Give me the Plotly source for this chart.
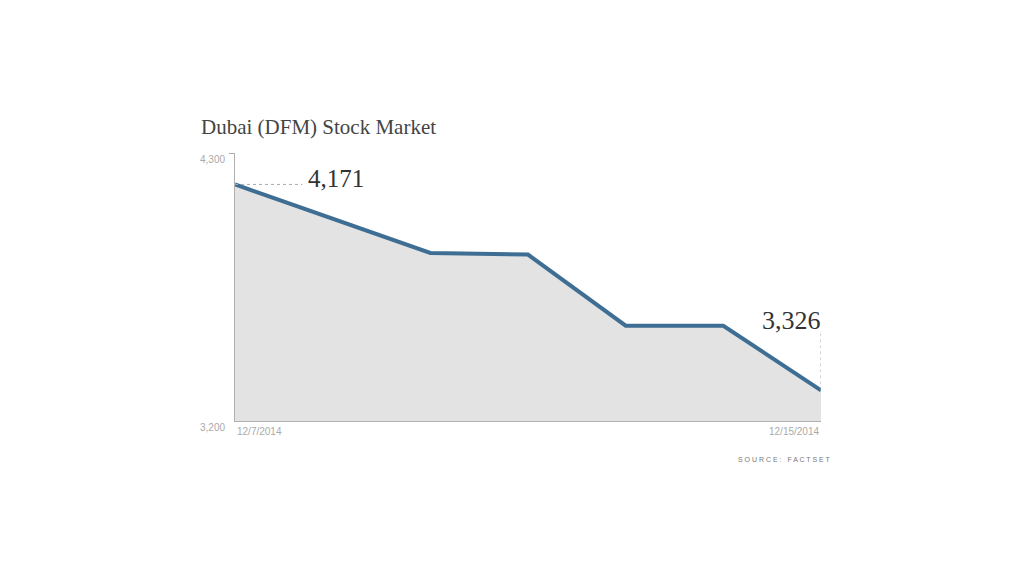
import plotly.graph_objects as go

dates = ["12/7/2014", "12/8/2014", "12/9/2014", "12/10/2014", "12/11/2014", "12/14/2014", "12/15/2014"]
values = [4171, 4030, 3890, 3883, 3591, 3591, 3326]
y_min, y_max = 3200, 4300
title = "Dubai (DFM) Stock Market"
source = "S O U R C E :   F A C T S E T"

x_idx = list(range(len(dates)))

fig = go.Figure()
fig.add_trace(go.Scatter(
    x=x_idx, y=values, mode="lines",
    line=dict(color="#3e6e93", width=4),
    fill="tozeroy", fillcolor="#e3e3e3",
    hoverinfo="skip", showlegend=False,
))

# dashed leader lines
fig.add_shape(type="line", xref="x", yref="y", x0=0, x1=0.69, y0=values[0], y1=values[0],
              line=dict(color="#aaaaaa", width=1, dash="dot"))
fig.add_shape(type="line", xref="x", yref="y", x0=x_idx[-1], x1=x_idx[-1], y0=values[-1], y1=3560,
              line=dict(color="#aaaaaa", width=1, dash="dot"))

serif = "Liberation Serif, DejaVu Serif, serif"
narrow = "Liberation Sans Narrow, Liberation Sans, Arial, sans-serif"

fig.add_annotation(xref="x", yref="y", x=0.73, y=values[0], text=f"{values[0]:,}",
                   showarrow=False, xanchor="left", yanchor="middle", yshift=6,
                   font=dict(family=serif, size=25, color="#333333"))
fig.add_annotation(xref="x", yref="y", x=x_idx[-1], y=3560, text=f"{values[-1]:,}",
                   showarrow=False, xanchor="right", yanchor="bottom", xshift=2, yshift=-4,
                   font=dict(family=serif, size=26, color="#333333"))

# axis labels
fig.add_annotation(xref="x", yref="paper", x=0, y=0, text=dates[0], showarrow=False,
                   xanchor="left", yanchor="top", yshift=-3,
                   font=dict(family=narrow, size=10, color="#aaaaaa"))
fig.add_annotation(xref="x", yref="paper", x=x_idx[-1], y=0, text=dates[-1], showarrow=False,
                   xanchor="right", yanchor="top", yshift=-3,
                   font=dict(family=narrow, size=10, color="#aaaaaa"))
fig.add_annotation(xref="paper", yref="y", x=0, y=y_max, text=f"{y_max:,}", showarrow=False,
                   xanchor="right", yanchor="middle", xshift=-8, yshift=-6,
                   font=dict(family=narrow, size=10, color="#aaaaaa"))
fig.add_annotation(xref="paper", yref="y", x=0, y=y_min, text=f"{y_min:,}", showarrow=False,
                   xanchor="right", yanchor="middle", xshift=-8, yshift=-6,
                   font=dict(family=narrow, size=10, color="#aaaaaa"))

# title and source
fig.add_annotation(xref="paper", yref="paper", x=0, y=1.0, text=title, showarrow=False,
                   xanchor="left", yanchor="bottom", yshift=12, xshift=-36,
                   font=dict(family=serif, size=21, color="#444444"))
fig.add_annotation(xref="paper", yref="paper", x=1.0, y=0, text=source, showarrow=False,
                   xanchor="right", yanchor="top", yshift=-33, xshift=12,
                   font=dict(family="Liberation Sans, Arial, sans-serif", size=7, color="#777777"))

fig.update_layout(
    width=1024, height=576,
    margin=dict(l=227, r=211, t=145, b=163),
    paper_bgcolor="white", plot_bgcolor="white",
    xaxis=dict(range=[0, x_idx[-1]], showgrid=False, zeroline=False, showticklabels=False,
               showline=True, linecolor="#b0b0b0", linewidth=1, ticks=""),
    yaxis=dict(range=[y_min, y_max], showgrid=False, zeroline=False, showticklabels=False,
               showline=True, linecolor="#b0b0b0", linewidth=1,
               ticks="outside", tickvals=[y_max], ticklen=5, tickcolor="#b0b0b0"),
)

fig.write_html("out.html")
